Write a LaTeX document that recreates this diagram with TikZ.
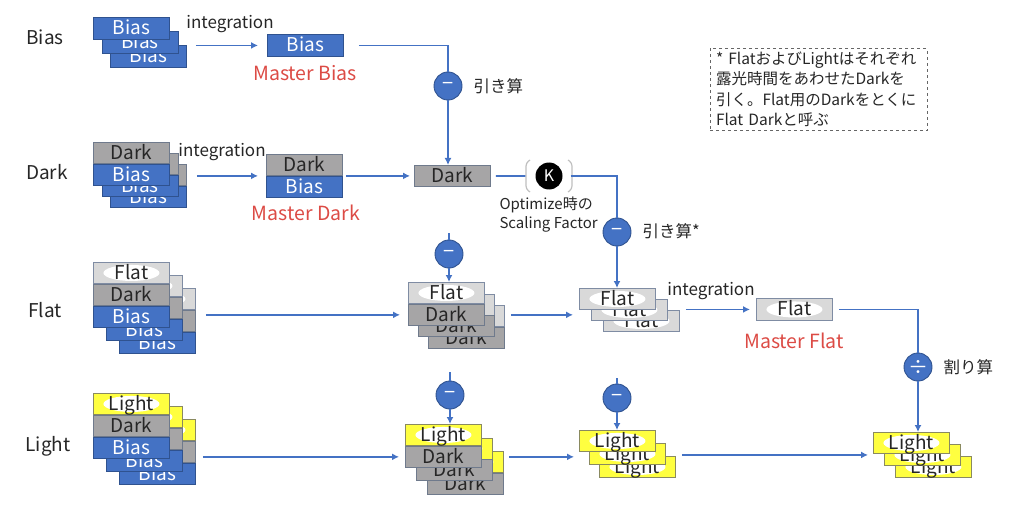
\documentclass[tikz,border=0pt]{standalone}
\usepackage{fontspec}
\setmainfont{Noto Sans CJK JP}
\usetikzlibrary{arrows.meta,positioning}

\definecolor{biasblue}{HTML}{4472C4}
\definecolor{biasedge}{HTML}{2F528F}
\definecolor{darkfill}{HTML}{A6A5A6}
\definecolor{darkedge}{HTML}{6F7A8C}
\definecolor{flatfill}{HTML}{D9D9D9}
\definecolor{flatedge}{HTML}{7F8CA3}
\definecolor{lightfill}{HTML}{FFFF40}
\definecolor{lightedge}{HTML}{8A8A60}
\definecolor{mastred}{HTML}{DC4B45}
\definecolor{txt}{HTML}{262626}

\tikzset{
  lay/.style={anchor=north west, minimum width=76pt, minimum height=21pt, inner sep=0pt,
    line width=0.9pt, text height=15.5pt, text depth=2.5pt, font=\fontsize{19}{19}\selectfont},
  biasl/.style={lay, fill=biasblue, draw=biasedge, text=white},
  darkl/.style={lay, fill=darkfill, draw=darkedge, text=txt},
  flatl/.style={lay, fill=flatfill, draw=flatedge, text=txt,
    path picture={\fill[white] (path picture bounding box.center) ellipse (28pt and 8pt);}},
  lightl/.style={lay, fill=lightfill, draw=lightedge, text=txt,
    path picture={\fill[white] (path picture bounding box.center) ellipse (28pt and 8pt);}},
  opc/.style={circle, fill=biasblue, draw=biasedge, line width=0.9pt, minimum size=28pt,
    inner sep=0pt, text=white, font=\fontsize{20}{20}\selectfont},
  kc/.style={circle, fill=black, minimum size=27pt, inner sep=0pt, text=white,
    font=\fontsize{16}{16}\selectfont},
  conn/.style={draw=biasblue, line width=1.8pt},
  arr/.style={conn, -{Latex[length=7pt,width=7pt]}},
  brk/.style={draw=black!25, line width=1.2pt, rounded corners=3pt},
  lab/.style={text=txt, font=\fontsize{19}{19}\selectfont},
  redlab/.style={text=mastred, font=\fontsize{19.5}{19.5}\selectfont},
  smlab/.style={text=txt, font=\fontsize{17}{17}\selectfont},
  oplab/.style={text=txt, font=\fontsize{16.5}{16.5}\selectfont, anchor=west},
}

\begin{document}
\begin{tikzpicture}[x=1pt,y=-1pt]
\useasboundingbox (0,0) rectangle (1024,505);

% row titles
\node[lab] (tbias) at (45,37) {Bias};
\node[lab] (tdark) at (47,172) {Dark};
\node[lab] (tflat) at (45,310) {Flat};
\node[lab] (tlight) at (48,446) {Light};

% Bias row
\foreach \i in {2,1,0}
  \node[biasl, minimum height=22pt] (b\i) at ({93+8.5*\i},{17+14*\i}) {Bias};
\node[biasl, minimum height=22pt] (mb) at (267,34) {Bias};
\node[redlab] (tmb) at (305,73) {Master Bias};
\node[smlab] (int1) at (230,24) {integration};
\draw[arr, shorten >=9pt] ([xshift=9pt]b2.east |- mb.west) -- (mb.west);

\node[opc] (m1) at (448,86) {−};
\node[oplab] (op1) at (470,86) {引き算};
\draw[conn] ([xshift=15pt]mb.east) -| (m1.north);

% Dark row
\foreach \i in {2,1,0}{
  \node[darkl] (dk\i) at ({93+8.5*\i},{142+11*\i}) {Dark};
  \node[biasl, below=0pt of dk\i] (dkb\i) {Bias};
}
\node[darkl] (mdk) at (266,154) {Dark};
\node[biasl, below=0pt of mdk] (mdb) {Bias};
\node[redlab] (tmd) at (306,213) {Master Dark};
\node[smlab] (int2) at (222,152) {integration};
\draw[arr, shorten >=8pt] ([xshift=10pt]dk2.east |- mdk.south west) -- (mdk.south west);

\node[darkl] (d) at (414,165) {Dark};
\draw[arr] (m1.south) -- (m1 |- d.north);
\draw[arr, shorten >=4pt] ([xshift=3pt]mdk.south east) -- (d.west |- mdk.south east);

\node[kc] (k) at (549,176) {K};
\draw[brk] (k) ++(-19,-16) -- ++(-4,3) -- ++(0,26) -- ++(4,3);
\draw[brk] (k) ++(19,-16) -- ++(4,3) -- ++(0,26) -- ++(-4,3);
\node[text=txt, font=\fontsize{15}{19}\selectfont, align=left, anchor=north west] (opt) at (496,193)
  {Optimize時の\\Scaling Factor};
\draw[conn, shorten >=10pt] ([xshift=5pt]d.east) -- (k.west);

\node[opc] (m2) at (617,232) {−};
\node[oplab] (op2) at (639,231) {引き算*};
\draw[conn] ([xshift=8pt]k.east) -| (m2.north);

% Flat row
\foreach \i in {2,1,0}{
  \node[flatl] (fl\i) at ({93+13*\i},{262+13*\i}) {Flat};
  \node[darkl, below=0pt of fl\i] (fld\i) {Dark};
  \node[biasl, below=0pt of fld\i] (flb\i) {Bias};
}
\foreach \i in {2,1,0}{
  \node[flatl] (mf\i) at ({408+10*\i},{282+11.5*\i}) {Flat};
  \node[darkl, below=0pt of mf\i] (mfd\i) {Dark};
}
\draw[arr, shorten >=8pt] ([xshift=10pt]flb2.east |- mfd0.west) -- (mfd0.west);

\coordinate (c3) at (449,233);
\node[opc] (m3) at (449,254) {−};
\draw[conn] (c3) -- (m3.north);
\draw[arr] (m3.south) -- (m3 |- mf0.north);

\foreach \i in {2,1,0}
  \node[flatl] (ff\i) at ({579+12*\i},{288+11*\i}) {Flat};
\draw[arr] (m2.south) -- (m2 |- ff0.north);
\draw[arr, shorten >=6pt] ([xshift=6pt]mfd2.east |- mfd0.west) -- (ff0.west |- mfd0.west);

\node[flatl, minimum height=22pt] (mflat) at (756,298) {Flat};
\node[redlab] (tmf) at (794,341) {Master Flat};
\node[smlab] (int3) at (711,291) {integration};
\draw[arr, shorten >=6pt] ([xshift=6pt]ff2.east |- mflat.west) -- (mflat.west);

\node[opc] (dv) at (918,367) {÷};
\node[oplab] (op3) at (940,367) {割り算};
\draw[conn] ([xshift=6pt]mflat.east) -| (dv.north);

% Light row
\foreach \i in {2,1,0}{
  \node[lightl] (ll\i) at ({93+13*\i},{393+13*\i}) {Light};
  \node[darkl, below=0pt of ll\i] (lld\i) {Dark};
  \node[biasl, below=0pt of lld\i] (llb\i) {Bias};
}
\foreach \i in {2,1,0}{
  \node[lightl] (ml\i) at ({405+11*\i},{424+13.5*\i}) {Light};
  \node[darkl, below=0pt of ml\i] (mld\i) {Dark};
}
\draw[arr, shorten >=6pt] ([xshift=7pt]llb2.east |- mld0.west) -- (mld0.west);

\coordinate (c4) at (450,372);
\node[opc] (m4) at (450,395) {−};
\draw[conn] (c4) -- (m4.north);
\draw[arr] (m4.south) -- (m4 |- ml0.north);

\foreach \i in {2,1,0}
  \node[lightl] (ls\i) at ({579+10*\i},{430+13*\i}) {Light};
\draw[arr, shorten >=5pt] ([xshift=5pt]mld2.east |- mld0.west) -- (ls0.west |- mld0.west);

\coordinate (c5) at (617,378);
\node[opc] (m5) at (617,398) {−};
\draw[conn] (c5) -- (m5.north);
\draw[arr] (m5.south) -- (m5 |- ls0.north);

\foreach \i in {2,1,0}
  \node[lightl] (fin\i) at ({873+11*\i},{432+12*\i}) {Light};
\draw[arr, shorten >=5pt] ([xshift=6pt]ls2.east |- fin1.west) -- (fin0.west |- fin1.west);
\draw[arr] (dv.south) -- (dv |- fin0.north);

% note
\node[draw=black!60, dashed, line width=0.8pt, minimum width=217pt, minimum height=81pt,
  text width=205pt, align=left, text=txt, font=\fontsize{15.5}{20.5}\selectfont] (note) at (818.5,89.5)
  {* FlatおよびLightはそれぞれ\\露光時間をあわせたDarkを\\引く。Flat用のDarkをとくに\\Flat Darkと呼ぶ};

\end{tikzpicture}
\end{document}
